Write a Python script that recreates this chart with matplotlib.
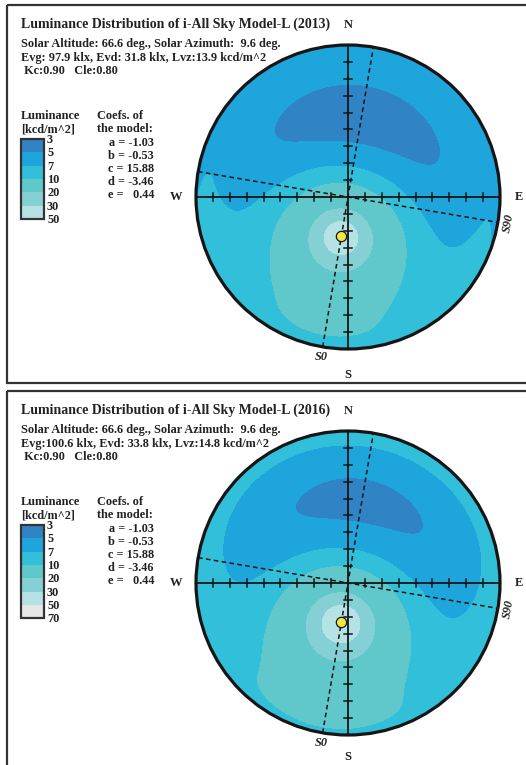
import numpy as np
import matplotlib
matplotlib.use("Agg")
import matplotlib.pyplot as plt
from matplotlib.patches import Rectangle, Circle

# ---------------- data ----------------
years = ["2013", "2016"]
evg = ["97.9", "100.6"]
evd = ["31.8", "33.8"]
lvz = [13.9, 14.8]
solar_altitude = 66.6
solar_azimuth = 9.6
kc = 0.90
cle = 0.80
coef_names = ["a", "b", "c", "d", "e"]
coef_values = [-1.03, -0.53, 15.88, -3.46, 0.44]
legend_levels = [[3, 5, 7, 10, 20, 30, 50], [3, 5, 7, 10, 20, 30, 50, 70]]
band_colors = ["#3083c5", "#1ea5dc", "#31bfd9", "#60c7ca", "#84d0d5", "#b5e2e4", "#e6e6e6"]

# ---------------- layout ----------------
W, H = 526, 765
fig = plt.figure(figsize=(W / 100, H / 100), dpi=100)
ov = fig.add_axes([0, 0, 1, 1])
ov.set_xlim(0, W)
ov.set_ylim(H, 0)
ov.axis("off")

FONT = dict(family="Liberation Serif", weight="bold", color="#222222")
FS = 8.85
R = 152.0
CX = 348.0
CY0 = 197.0
DY = 386.0


def sky_luminance(x, y, Lz):
    a, b, c, d, e = coef_values
    zs = np.radians(90 - solar_altitude)
    azs = np.radians(solar_azimuth)
    r = np.hypot(x, y)
    Z = np.clip(r, 0, 1) * np.pi / 2
    # azimuth measured from south toward west (x east, y north)
    az = np.arctan2(-x, -y)
    cos_chi = np.cos(zs) * np.cos(Z) + np.sin(zs) * np.sin(Z) * np.cos(az - azs)
    chi = np.arccos(np.clip(cos_chi, -1, 1))
    f = 1 + c * (np.exp(d * chi) - np.exp(d * np.pi / 2)) + e * np.cos(chi) ** 2
    cz = np.clip(np.cos(Z), 1e-6, None)
    phi = 1 + a * np.exp(b / cz)
    fzs = 1 + c * (np.exp(d * zs) - np.exp(d * np.pi / 2)) + e * np.cos(zs) ** 2
    phi0 = 1 + a * np.exp(b)
    return Lz * f * phi / (fzs * phi0)


for p, year in enumerate(years):
    oy = p * DY
    cy = CY0 + oy
    # panel frame
    ov.add_patch(Rectangle((7, 5 + oy), 540, 378 if p == 0 else 420, fill=False,
                           lw=1.6, edgecolor="#333333"))
    # header text
    ov.text(21, 28 + oy, f"Luminance Distribution of i-All Sky Model-L ({year})",
            fontsize=10, ha="left", va="baseline", **FONT)
    ov.text(CX, 28 + oy, "N", fontsize=9, ha="center", va="baseline", **FONT)
    ov.text(21, 47 + oy, f"Solar Altitude: {solar_altitude:.1f} deg., Solar Azimuth:  {solar_azimuth:.1f} deg.",
            fontsize=FS, ha="left", va="baseline", **FONT)
    ov.text(21, 61 + oy, f"Evg:{'' if len(evg[p]) > 4 else ' '}{evg[p]} klx, Evd: {evd[p]} klx, Lvz:{lvz[p]:.1f} kcd/m^2",
            fontsize=FS, ha="left", va="baseline", **FONT)
    ov.text(21, 74 + oy, f" Kc:{kc:.2f}   Cle:{cle:.2f}",
            fontsize=FS, ha="left", va="baseline", **FONT)

    # legend
    ov.text(21, 119 + oy, "Luminance", fontsize=FS, ha="left", va="baseline", **FONT)
    ov.text(21, 132 + oy, "[kcd/m^2]", fontsize=FS, ha="left", va="baseline", **FONT)
    levs = legend_levels[p]
    top = 139 + oy
    ch = 13.3
    for i in range(len(levs) - 1):
        ov.add_patch(Rectangle((21, top + i * ch), 23, ch, facecolor=band_colors[i],
                               edgecolor="none"))
    ov.add_patch(Rectangle((21, top), 23, ch * (len(levs) - 1), fill=False,
                           lw=1.6, edgecolor="#333333"))
    for i, lv in enumerate(levs):
        ov.text(47, top + i * ch + 1, str(lv), fontsize=FS, ha="left", va="center", **FONT)

    ov.text(97, 119 + oy, "Coefs. of", fontsize=FS, ha="left", va="baseline", **FONT)
    ov.text(97, 132 + oy, "the model:", fontsize=FS, ha="left", va="baseline", **FONT)
    for i, (nm, v) in enumerate(zip(coef_names, coef_values)):
        s = f"{nm} = {v:.2f}" if v < 0 or v >= 10 else f"{nm} =   {v:.2f}"
        ov.text(154, 146 + i * 13.1 + oy, s, fontsize=FS, ha="right", va="baseline", **FONT)

    ov.text(176, cy, "W", fontsize=9, ha="center", va="center", **FONT)
    ov.text(519, cy, "E", fontsize=9, ha="center", va="center", **FONT)
    ov.text(CX, min(375 + oy, 757), "S", fontsize=9, ha="center", va="center", **FONT)

    # sky dome axes
    m = 1.08
    ax = fig.add_axes([(CX - m * R) / W, (H - (cy + m * R)) / H, 2 * m * R / W, 2 * m * R / H])
    ax.set_xlim(-m, m)
    ax.set_ylim(-m, m)
    ax.axis("off")
    ax.patch.set_alpha(0)

    g = np.linspace(-1.01, 1.01, 500)
    X, Y = np.meshgrid(g, g)
    L = sky_luminance(X, Y, lvz[p])
    nb = len(levs) - 1
    cont_levels = [0] + levs[1:-1] + [1e4]
    cs = ax.contourf(X, Y, L, levels=cont_levels, colors=band_colors[:nb])
    clip = Circle((0, 0), 1, transform=ax.transData)
    cs.set_clip_path(clip)

    ax.add_patch(Circle((0, 0), 1, fill=False, lw=2.3, edgecolor="#151515", zorder=5))
    ax.plot([-1, 1], [0, 0], color="#151515", lw=1.3, zorder=4)
    ax.plot([0, 0], [-1, 1], color="#151515", lw=1.3, zorder=4)
    t = 0.024
    for k in range(1, 9):
        rr = k / 9
        for sgn in (-1, 1):
            ax.plot([sgn * rr, sgn * rr], [-t, t], color="#151515", lw=1.1, zorder=4)
            ax.plot([-t, t], [sgn * rr, sgn * rr], color="#151515", lw=1.1, zorder=4)

    azr = np.radians(solar_azimuth)
    ax.plot([-np.sin(azr), np.sin(azr)], [-np.cos(azr), np.cos(azr)], color="#151515",
            lw=1.1, ls=(0, (3, 2.2)), zorder=4)
    ax.plot([-np.cos(azr), np.cos(azr)], [np.sin(azr), -np.sin(azr)], color="#151515",
            lw=1.1, ls=(0, (3, 2.2)), zorder=4)

    rs = (90 - solar_altitude) / 90
    ax.scatter([-rs * np.sin(azr)], [-rs * np.cos(azr)], s=55, color="#f3e543",
               edgecolor="#151515", linewidth=0.9, zorder=6)

    ov.text(321, 357 + oy, "S0", fontsize=FS, ha="center", va="center",
            family="Liberation Serif", weight="bold", style="italic", color="#222222")
    ov.text(508, 223 + oy, "S90", fontsize=FS, ha="center", va="center", rotation=80,
            family="Liberation Serif", weight="bold", style="italic", color="#222222")

fig.savefig("out.png", dpi=100)
